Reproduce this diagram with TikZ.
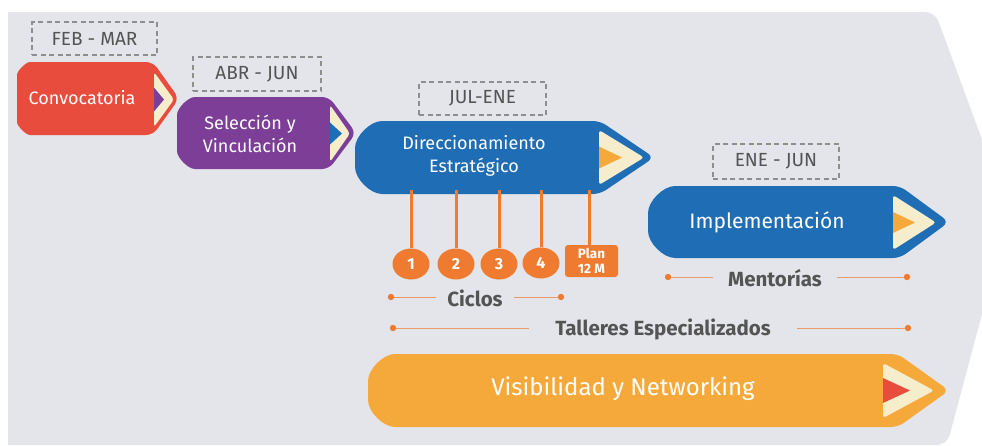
\documentclass[tikz,border=0pt]{standalone}
\usepackage{fontspec}
\setmainfont{Fira Sans}
\usetikzlibrary{shapes.geometric}
\definecolor{bg}{HTML}{E4E5EA}
\definecolor{cred}{HTML}{E84C3D}
\definecolor{cpurple}{HTML}{7D3E97}
\definecolor{cblue}{HTML}{1F6EB5}
\definecolor{cream}{HTML}{F6EDCD}
\definecolor{corange}{HTML}{F5A93B}
\definecolor{lineor}{HTML}{EE7B30}
\definecolor{thinor}{HTML}{EE9A68}
\definecolor{dashgray}{HTML}{8E8E8E}
\definecolor{labgray}{HTML}{545454}
\newcommand\arrowshape[7]{%
  \pgfmathsetmacro\ymid{(#2+#3)/2}%
  \fill[#7, rounded corners=7pt] (#4,#2) -- (#5,\ymid) -- (#4,#3) -- ({#1+#6},#3)
    arc[start angle=90,end angle=180,radius=#6] -- (#1,{#2+#6})
    arc[start angle=180,end angle=270,radius=#6] -- cycle;}
\newcommand\creamchev[7]{%
  \pgfmathsetmacro\cmid{(#2+#3)/2}%
  \fill[cream, rounded corners=3pt] (#1,#2) -- (#4,\cmid) -- (#1,#3) -- cycle;
  \fill[#7] (#1,{\cmid-#6}) -- (#5,\cmid) -- (#1,{\cmid+#6}) -- cycle;}
\tikzset{
  datebox/.style={draw=dashgray, dash pattern=on 5pt off 3.5pt, line width=1.1pt,
    text=labgray, font=\fontsize{19}{22}\selectfont, inner sep=0pt},
  wtext/.style={text=white, align=center, font=\fontsize{18}{23}\selectfont},
  circ/.style={ellipse, fill=lineor, text=white, minimum width=37pt, minimum height=31pt,
    inner sep=0pt, font=\fontsize{16}{18}\selectfont\bfseries},
  conn/.style={draw=lineor, line width=3pt},
  lab/.style={text=labgray, font=\fontsize{20.5}{23}\selectfont\bfseries, inner ysep=0pt},
  thin/.style={draw=thinor, line width=1pt},
  dot/.style={fill=lineor}
}
\begin{document}
\begin{tikzpicture}[x=1pt,y=-1pt]
\useasboundingbox (0,0) rectangle (982,445);
\fill[white] (0,0) rectangle (982,445);
\begin{scope}
\clip (0,0) rectangle (982,445);
\fill[bg] (8,445) -- (8,12) [rounded corners=10pt] -- (935,12) -- (1009,213) -- (947,445) [sharp corners] -- cycle;
\end{scope}

% date boxes
\node[datebox, minimum width=125pt, minimum height=33pt] (feb) at (94.5,38.5) {FEB - MAR};
\node[datebox, minimum width=128pt, minimum height=34pt] (abr) at (257,74) {ABR - JUN};
\node[datebox, minimum width=127pt, minimum height=33pt] (jul) at (482.5,98.5) {JUL-ENE};
\node[datebox, minimum width=126pt, minimum height=35pt] (ene) at (776,161.5) {ENE - JUN};

% arrows
\arrowshape{17}{62}{135}{153}{179}{20}{cred}
\creamchev{154}{72}{127}{174}{164}{12}{cpurple}
\node[wtext] (conv) at (82,98) {Convocatoria};

\arrowshape{177}{97}{169}{329}{356}{25}{cpurple}
\creamchev{330}{105}{162}{350}{342}{11}{cblue}
\node[wtext] (sel) at (250,134) {Selección y\\Vinculación};

\arrowshape{355}{121}{194}{600}{654}{34}{cblue}
\creamchev{599}{130}{185}{644}{622}{11}{corange}
\node[wtext] (dir) at (474,156) {Direccionamiento\\Estratégico};

\arrowshape{648}{186}{258}{900}{949}{34}{cblue}
\creamchev{893}{195}{250}{936}{915}{10.5}{corange}
\node[wtext, font=\fontsize{21}{24}\selectfont] (imp) at (767,222) {Implementación};

\arrowshape{368}{354}{427}{898}{949}{34}{corange}
\creamchev{883}{363}{418}{934}{910}{12.5}{cred}
\node[wtext, font=\fontsize{24}{27}\selectfont] (vis) at (623,389) {Visibilidad y Networking};

% cycles
\coordinate (t1) at (411,190);
\coordinate (t2) at (456,190);
\coordinate (t3) at (499,190);
\coordinate (t4) at (541,190);
\coordinate (t5) at (589,190);
\node[circ] (c1) at (411,264) {1};
\node[circ] (c2) at (456,264) {2};
\node[circ] (c3) at (499,264) {3};
\node[circ] (c4) at (541,263) {4};
\node[fill=lineor, rounded corners=3pt, text=white, align=center, minimum width=53pt, minimum height=32pt,
  inner sep=0pt, font=\fontsize{13.5}{15}\selectfont\bfseries] (plan) at (591.5,261) {Plan\\12 M};
\draw[conn] (t1) -- (c1.north);
\draw[conn] (t2) -- (c2.north);
\draw[conn] (t3) -- (c3.north);
\draw[conn] (t4) -- (c4.north);
\draw[conn] (t5) -- (plan.north -| t5);

% labels with lines
\node[lab, inner xsep=11pt] (ciclos) at (475,298) {Ciclos};
\coordinate (cl) at (391,297);
\coordinate (cr) at (561,297);
\draw[thin] (cl) -- (ciclos.west |- cl);
\draw[thin] (ciclos.east |- cr) -- (cr);
\fill[dot] (cl) circle[radius=3.2pt];
\fill[dot] (cr) circle[radius=3.2pt];

\node[lab, inner xsep=15pt] (ment) at (775,278) {Mentorías};
\coordinate (ml) at (668,277);
\coordinate (mr) at (907,277);
\draw[thin] (ml) -- (ment.west |- ml);
\draw[thin] (ment.east |- mr) -- (mr);
\fill[dot] (ml) circle[radius=3.2pt];
\fill[dot] (mr) circle[radius=3.2pt];

\node[lab, inner xsep=26pt] (tall) at (663,329) {Talleres Especializados};
\coordinate (tl) at (393,328);
\coordinate (tr) at (908,328);
\draw[thin] (tl) -- (tall.west |- tl);
\draw[thin] (tall.east |- tr) -- (tr);
\fill[dot] (tl) circle[radius=3.2pt];
\fill[dot] (tr) circle[radius=3.2pt];
\end{tikzpicture}
\end{document}
